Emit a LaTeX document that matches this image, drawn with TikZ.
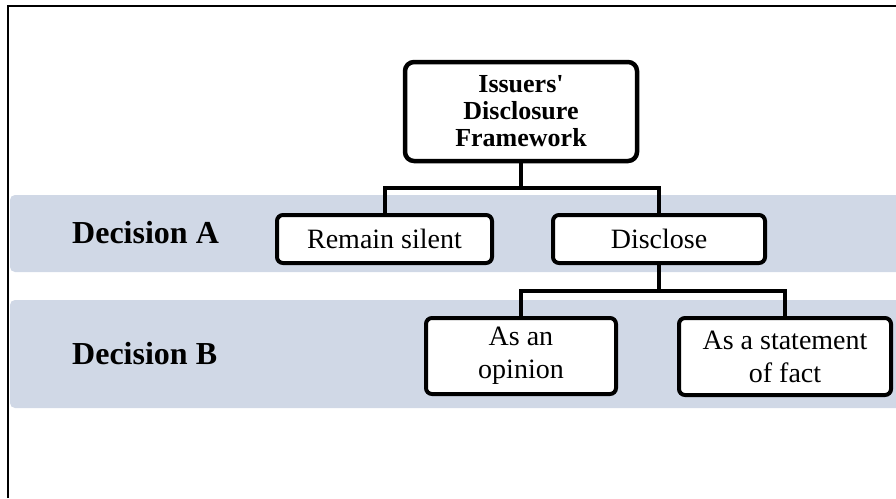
\documentclass[tikz,border=0pt]{standalone}
\usepackage{fontspec}
\setmainfont{Liberation Serif}
\begin{document}
\begin{tikzpicture}[x=1pt,y=-1pt,
  bandfill/.style={fill=bandcol, rounded corners=5pt},
  choice/.style={draw=black, line width=4pt, fill=white, rounded corners=6pt,
    align=center, inner sep=0pt, font=\fontsize{28}{33}\selectfont},
  rootbox/.style={draw=black, line width=4.5pt, fill=white, rounded corners=9pt,
    align=center, inner sep=0pt, font=\bfseries\fontsize{26}{27}\selectfont},
  decision/.style={anchor=west, inner sep=0pt, font=\bfseries\fontsize{32}{36}\selectfont},
  link/.style={draw=black, line width=4pt}]
\definecolor{bandcol}{RGB}{208,216,230}
\useasboundingbox (0,0) rectangle (896,498);

% outer frame (top and left edges)
\draw[line width=2pt] (8,498) -- (8,6) -- (896,6);

% decision bands
\fill[bandfill] (10,195) rectangle (910,272);
\fill[bandfill] (10,300) rectangle (910,408);

% band labels
\node[decision] (decA) at (72,233) {Decision A};
\node[decision] (decB) at (72,354) {Decision B};

% root
\node[rootbox, minimum width=232pt, minimum height=99pt] (root) at (521,111.5)
  {Issuers\textquotesingle\\Disclosure\\Framework};

% decision A options
\node[choice, minimum width=215pt, minimum height=48pt] (silent) at (384.5,239) {Remain silent};
\node[choice, minimum width=212pt, minimum height=48pt] (disclose) at (659,239) {Disclose};

% decision B options
\node[choice, minimum width=190pt, minimum height=76pt] (opinion) at (521,356) {As an\\opinion};
\node[choice, minimum width=212pt, minimum height=77pt] (fact) at (785,356.5) {As a statement\\of fact};

% connectors
\coordinate (jA) at (521,188);
\coordinate (jB) at (659,291);
\draw[link] (root.south) -- (jA);
\draw[link] (silent.north) |- (jA) -| (disclose.north);
\draw[link] (disclose.south) -- (jB);
\draw[link] (opinion.north) |- (jB) -| (fact.north);
\end{tikzpicture}
\end{document}
